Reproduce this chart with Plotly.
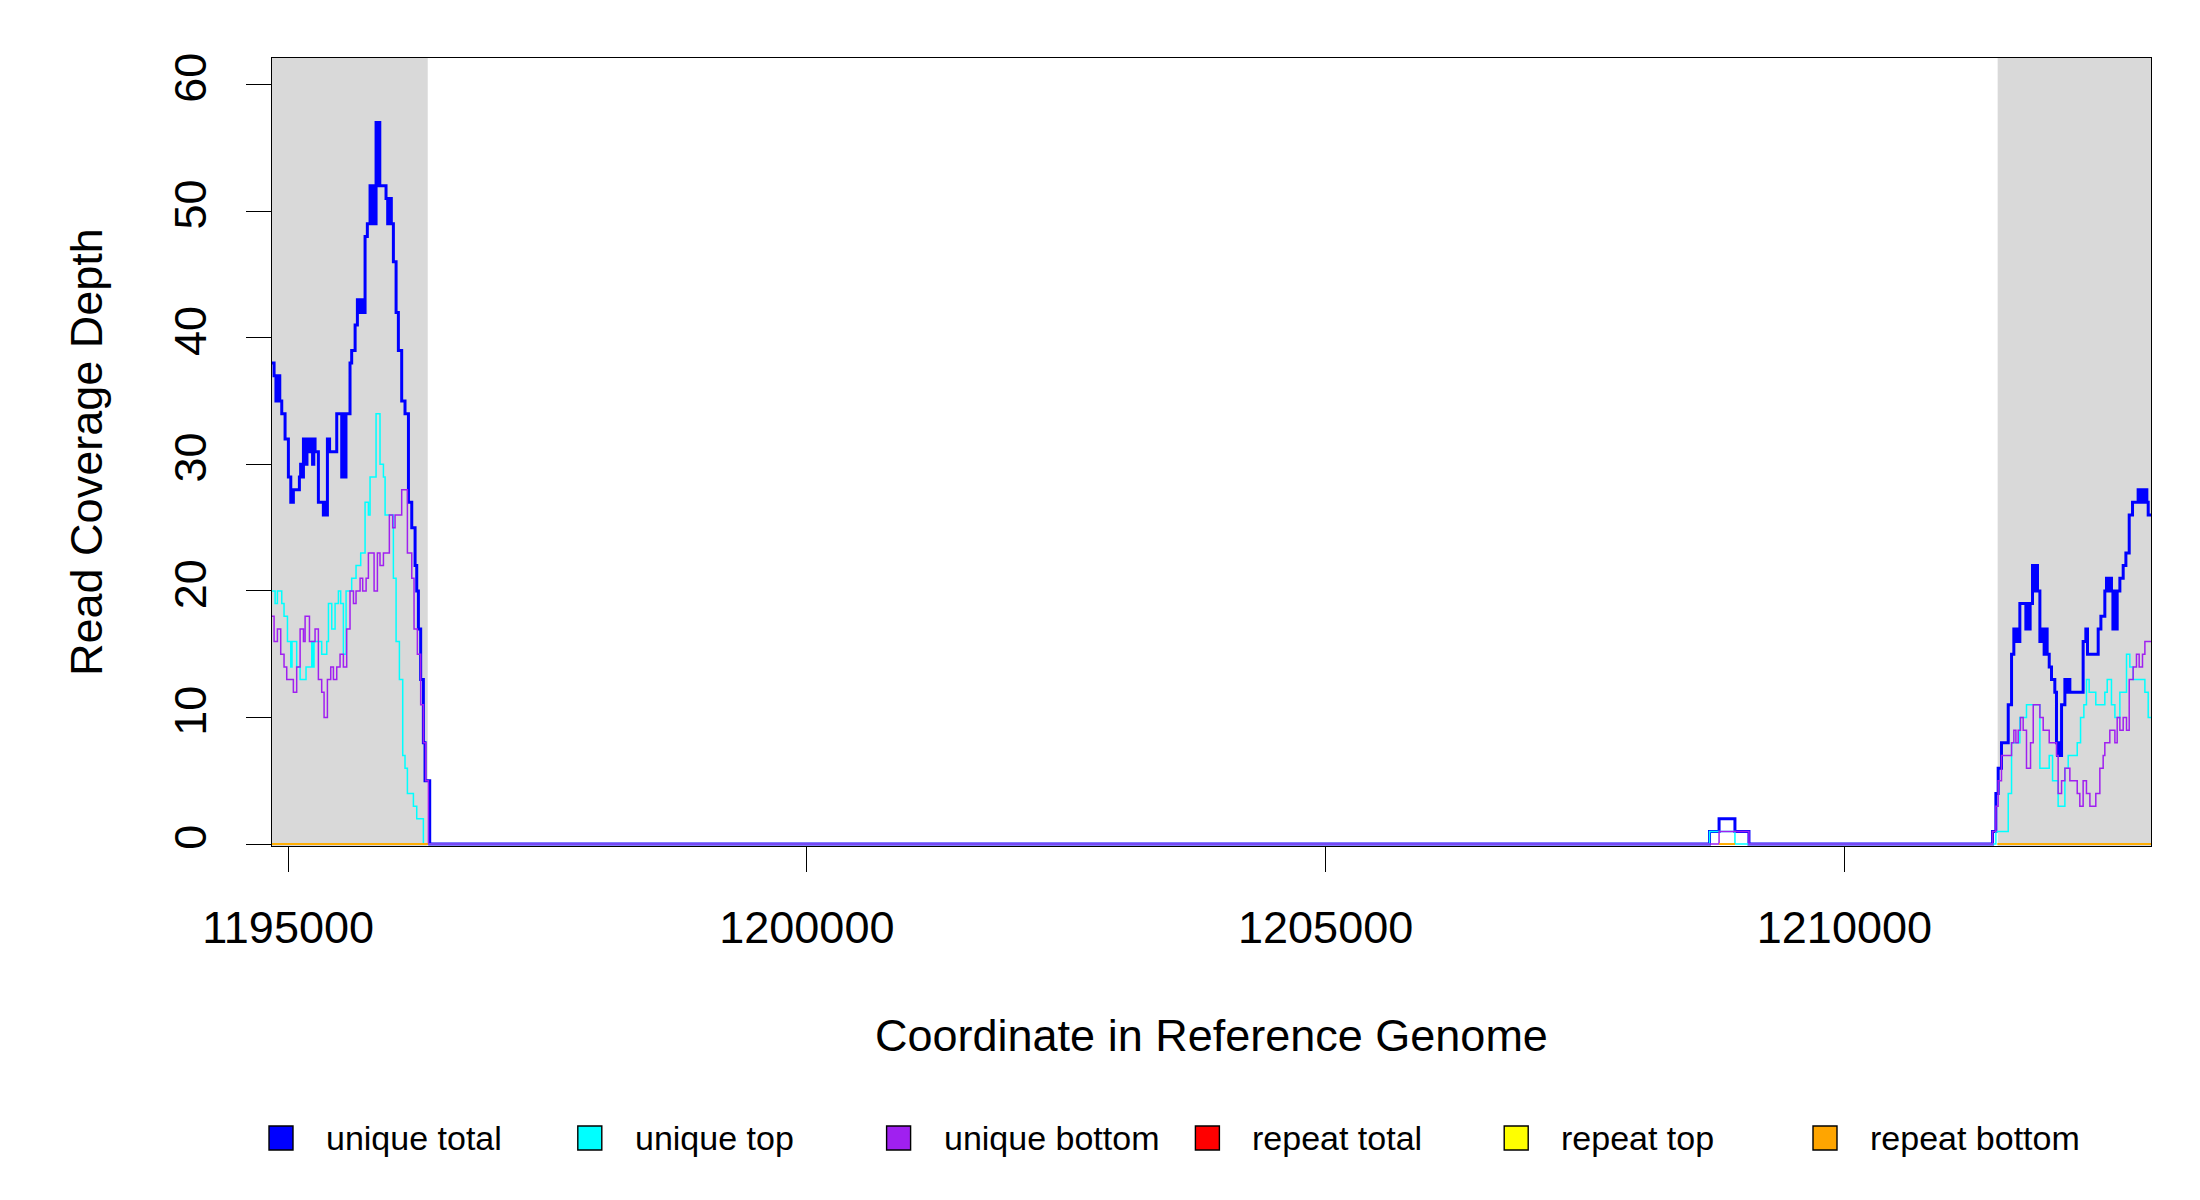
import plotly.graph_objects as go

# plotted window along the reference genome (bp) and depth axis
X_START = 1194845
X_END = 1212955
Y_TOP = 62.1

X_TICKS = [1195000, 1200000, 1205000, 1210000]
Y_TICKS = [0, 10, 20, 30, 40, 50, 60]

# annotated feature windows, drawn as grey boxes
FEATURES = [(1194845, 1196346), (1211477, 1212955)]

# coverage as steps: (start coordinate, depth), depth holds until the next start
UNIQUE_TOTAL = [
    (1194845, 38), (1194865, 37), (1194883, 35), (1194901, 37), (1194920, 35),
    (1194939, 34), (1194971, 32), (1195003, 29), (1195026, 27), (1195034, 28),
    (1195042, 27), (1195051, 28), (1195109, 29), (1195121, 30), (1195133, 29),
    (1195148, 32), (1195165, 30), (1195182, 32), (1195200, 31), (1195218, 32),
    (1195236, 30), (1195248, 32), (1195260, 31), (1195292, 27), (1195340, 26),
    (1195352, 27), (1195365, 26), (1195379, 32), (1195400, 31), (1195469, 34),
    (1195517, 29), (1195530, 34), (1195544, 29), (1195558, 34), (1195597, 38),
    (1195613, 39), (1195646, 41), (1195668, 43), (1195685, 42), (1195705, 43),
    (1195725, 42), (1195742, 48), (1195764, 49), (1195790, 52), (1195805, 49),
    (1195820, 52), (1195835, 49), (1195848, 57), (1195860, 52), (1195872, 57),
    (1195884, 52), (1195944, 51), (1195960, 49), (1195977, 51), (1195995, 49),
    (1196015, 46), (1196041, 42), (1196063, 39), (1196095, 35), (1196127, 34),
    (1196160, 27), (1196192, 25), (1196224, 22), (1196240, 20), (1196256, 17),
    (1196278, 13), (1196304, 8), (1196320, 5), (1196365, 0),
    (1208700, 1), (1208792, 2), (1208945, 1), (1209080, 0),
    (1211428, 1), (1211460, 4), (1211482, 6), (1211514, 8), (1211579, 11),
    (1211611, 15), (1211633, 17), (1211650, 16), (1211665, 17), (1211680, 16),
    (1211691, 19), (1211749, 17), (1211762, 19), (1211775, 17), (1211790, 19),
    (1211813, 22), (1211827, 20), (1211841, 22), (1211861, 20), (1211884, 16),
    (1211910, 17), (1211925, 15), (1211940, 17), (1211954, 15), (1211974, 14),
    (1211996, 13), (1212028, 12), (1212044, 8), (1212055, 7), (1212066, 8),
    (1212077, 7), (1212093, 11), (1212125, 13), (1212138, 12), (1212150, 13),
    (1212173, 12), (1212301, 16), (1212327, 17), (1212343, 15), (1212446, 17),
    (1212472, 18), (1212510, 20), (1212526, 21), (1212540, 20), (1212555, 21),
    (1212574, 20), (1212588, 17), (1212603, 20), (1212617, 17), (1212629, 20),
    (1212655, 21), (1212687, 22), (1212713, 23), (1212745, 26), (1212777, 27),
    (1212831, 28), (1212848, 27), (1212865, 28), (1212882, 27), (1212900, 28),
    (1212915, 27), (1212928, 26),
]

UNIQUE_TOP = [
    (1194845, 20), (1194875, 19), (1194897, 20), (1194939, 19), (1194961, 18),
    (1194994, 16), (1195026, 14), (1195038, 16), (1195083, 14), (1195116, 13),
    (1195173, 14), (1195228, 16), (1195240, 14), (1195250, 16), (1195324, 15),
    (1195373, 16), (1195389, 19), (1195421, 17), (1195453, 19), (1195485, 20),
    (1195507, 19), (1195533, 15), (1195559, 20), (1195613, 21), (1195655, 22),
    (1195700, 23), (1195742, 27), (1195774, 26), (1195790, 29), (1195848, 34),
    (1195886, 30), (1195919, 29), (1195935, 26), (1196015, 21), (1196041, 16),
    (1196073, 13), (1196105, 7), (1196127, 6), (1196150, 4), (1196208, 3),
    (1196240, 2), (1196304, 0),
    (1208700, 1), (1208945, 0),
    (1211460, 1), (1211579, 4), (1211611, 8), (1211691, 10), (1211755, 11),
    (1211884, 6), (1211974, 7), (1212006, 5), (1212060, 3), (1212125, 6),
    (1212157, 7), (1212244, 8), (1212276, 10), (1212308, 11), (1212333, 13),
    (1212359, 12), (1212423, 11), (1212510, 12), (1212533, 13), (1212574, 11),
    (1212607, 10), (1212655, 12), (1212719, 15), (1212751, 14), (1212783, 13),
    (1212896, 12), (1212928, 10),
]

UNIQUE_BOTTOM = [
    (1194845, 18), (1194865, 16), (1194897, 17), (1194929, 15), (1194961, 14),
    (1194987, 13), (1195051, 12), (1195083, 14), (1195116, 17), (1195148, 16),
    (1195164, 18), (1195206, 16), (1195260, 17), (1195292, 13), (1195324, 12),
    (1195347, 10), (1195379, 13), (1195411, 14), (1195437, 13), (1195469, 14),
    (1195501, 15), (1195533, 14), (1195565, 17), (1195597, 20), (1195630, 19),
    (1195655, 20), (1195694, 21), (1195719, 20), (1195752, 21), (1195774, 23),
    (1195829, 20), (1195861, 23), (1195886, 22), (1195919, 23), (1195976, 26),
    (1196008, 25), (1196031, 26), (1196095, 28), (1196150, 23), (1196192, 21),
    (1196214, 17), (1196246, 15), (1196278, 11), (1196304, 8), (1196326, 5),
    (1196352, 0),
    (1208792, 1), (1209080, 0),
    (1211428, 1), (1211460, 3), (1211482, 5), (1211514, 7), (1211611, 8),
    (1211633, 9), (1211653, 8), (1211675, 9), (1211697, 10), (1211723, 9),
    (1211755, 6), (1211794, 8), (1211820, 11), (1211884, 10), (1211916, 9),
    (1211974, 8), (1212044, 7), (1212060, 4), (1212093, 5), (1212125, 6),
    (1212173, 5), (1212244, 4), (1212269, 3), (1212301, 5), (1212333, 4),
    (1212366, 3), (1212423, 4), (1212462, 6), (1212494, 7), (1212510, 8),
    (1212558, 9), (1212607, 8), (1212629, 10), (1212655, 9), (1212687, 10),
    (1212719, 9), (1212745, 13), (1212783, 14), (1212815, 15), (1212841, 14),
    (1212873, 15), (1212896, 16),
]

# repeat coverage is only reported inside these windows, and it is zero there
REPEAT_WINDOWS = [(1194845, 1196346), (1208792, 1208945), (1211477, 1212955)]
REPEAT_DEPTH = [0, 0, 0]

SERIES_NAMES = ['unique total', 'unique top', 'unique bottom',
                'repeat total', 'repeat top', 'repeat bottom']
SERIES_COLOURS = ['#0000FF', '#00FFFF', '#A020F0', '#FF0000', '#FFFF00', '#FFA500']

FONT = 'Liberation Sans, Arial, sans-serif'

# page geometry in px (the page body adds 8px top/left, margins absorb it)
PLOT_L, PLOT_T, PLOT_R, PLOT_B = 272, 58, 2151, 846
PLOT_W, PLOT_H = PLOT_R - PLOT_L, PLOT_B - PLOT_T
KEY_X0, KEY_STEP, KEY_Y, KEY_SIZE, KEY_TEXT_GAP = 281, 308.8, 1138, 24, 43


def step_trace(steps, colour, width):
    """Step line for (start, depth) pairs, last depth held to the window end."""
    xs = [p for p, _ in steps] + [X_END]
    ys = [d for _, d in steps] + [steps[-1][1]]
    return go.Scatter(x=xs, y=ys, mode='lines', line_shape='hv',
                      line={'color': colour, 'width': width},
                      showlegend=False, hoverinfo='skip')


def repeat_trace(colour):
    xs, ys = [], []
    for (a, b), d in zip(REPEAT_WINDOWS, REPEAT_DEPTH):
        xs += [a, b, None]
        ys += [d, d, None]
    return go.Scatter(x=xs, y=ys, mode='lines',
                      line={'color': colour, 'width': 1.5},
                      showlegend=False, hoverinfo='skip')


def px_x(px):
    return (px - PLOT_L) / PLOT_W


def px_y(py):
    return (PLOT_B - py) / PLOT_H


fig = go.Figure()
fig.add_trace(step_trace(UNIQUE_TOTAL, SERIES_COLOURS[0], 3))
fig.add_trace(step_trace(UNIQUE_TOP, SERIES_COLOURS[1], 1.5))
fig.add_trace(step_trace(UNIQUE_BOTTOM, SERIES_COLOURS[2], 1.5))
for c in SERIES_COLOURS[3:]:
    fig.add_trace(repeat_trace(c))

for a, b in FEATURES:
    fig.add_shape(type='rect', xref='x', yref='paper', x0=a, x1=b, y0=0, y1=1,
                  fillcolor='#D9D9D9', line_width=0, layer='below')

# legend row below the plot: bordered colour squares with labels
annotations = []
half = KEY_SIZE / 2
for i, (name, c) in enumerate(zip(SERIES_NAMES, SERIES_COLOURS)):
    cx = KEY_X0 + i * KEY_STEP
    fig.add_shape(type='rect', xref='paper', yref='paper',
                  x0=px_x(cx - half), x1=px_x(cx + half),
                  y0=px_y(KEY_Y + half), y1=px_y(KEY_Y - half),
                  fillcolor=c, line={'color': 'black', 'width': 1.4})
    annotations.append(dict(text=name, xref='paper', yref='paper',
                            x=px_x(cx + KEY_TEXT_GAP), y=px_y(KEY_Y),
                            xanchor='left', yanchor='middle', showarrow=False,
                            font={'size': 34, 'color': 'black', 'family': FONT}))

annotations += [
    dict(text='Coordinate in Reference Genome', xref='paper', yref='paper',
         x=0.5, y=-0.2406, xanchor='center', yanchor='middle', showarrow=False,
         font={'size': 45, 'color': 'black', 'family': FONT}),
    dict(text='Read Coverage Depth', xref='paper', yref='paper',
         x=-0.099, y=0.5, xanchor='center', yanchor='middle', textangle=-90,
         showarrow=False, font={'size': 45, 'color': 'black', 'family': FONT}),
]

axis_common = dict(showline=True, linecolor='black', linewidth=1.4, mirror=True,
                   showgrid=False, zeroline=False, ticks='outside', ticklen=25,
                   tickwidth=1.4, tickcolor='black',
                   tickfont={'size': 45, 'color': 'black', 'family': FONT})

fig.update_layout(
    width=2200, height=1200,
    margin={'l': PLOT_L - 8, 'r': 2200 - PLOT_R + 8, 't': PLOT_T - 8, 'b': 1200 - PLOT_B + 8},
    paper_bgcolor='white', plot_bgcolor='white',
    font={'family': FONT, 'color': 'black'},
    showlegend=False,
    xaxis=dict(axis_common, range=[X_START, X_END], tickvals=X_TICKS,
               ticktext=[str(v) for v in X_TICKS], ticklabelstandoff=17),
    yaxis=dict(axis_common, range=[-0.15, Y_TOP], tickvals=Y_TICKS,
               ticktext=[str(v) for v in Y_TICKS], tickangle=-90,
               ticklabelstandoff=22),
    annotations=annotations,
)

fig.write_html('out.html')
